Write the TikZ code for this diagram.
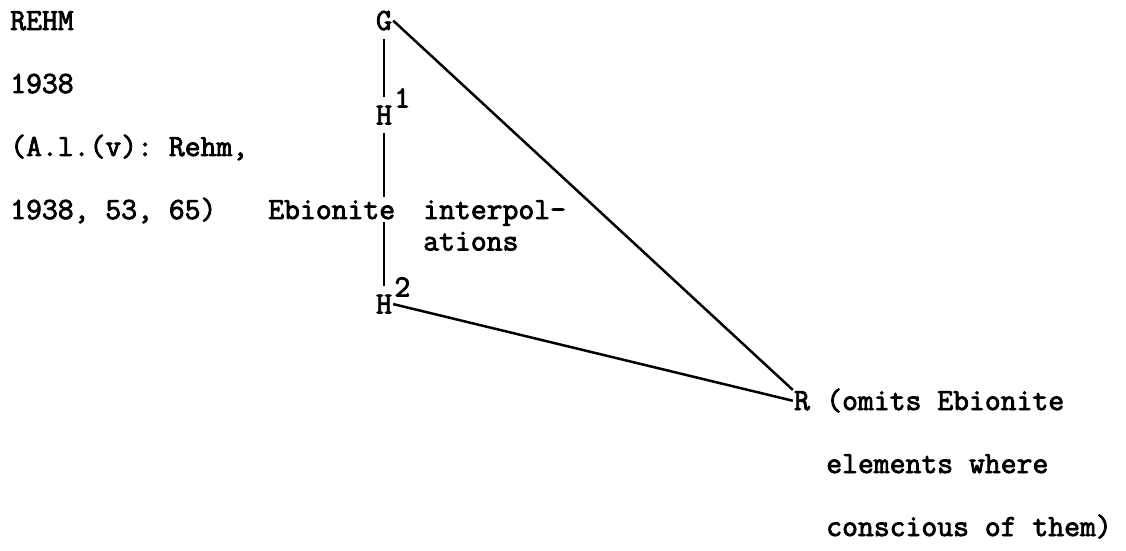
\documentclass[tikz,border=0pt]{standalone}
\usepackage{fontspec}
\setmonofont{Latin Modern Mono}[FakeBold=2.6]
\frenchspacing
\begin{document}
\begin{tikzpicture}[x=0.5pt, y=-0.5pt, line width=1.25pt,
    every node/.style={font=\fontsize{15.4}{18}\selectfont\ttfamily, inner sep=0pt},
    txt/.style={anchor=base west},
    ms/.style={anchor=base},
    gap/.style={shorten <=3.5pt, shorten >=3.5pt}]
    \useasboundingbox (0,0) rectangle (1126,551);
    % source
    \node[txt] (rehm) at (9,30) {REHM};
    \node[txt] (year) at (9,93) {1938};
    \node[txt] (ref1) at (9,156) {(A.l.(v): Rehm,};
    \node[txt] (ref2) at (9,219) {1938, 53, 65)};
    % manuscripts
    \node[ms] (G) at (384,30) {G};
    \node[ms] (H1) at (384,124.5) {H};
    \node[ms] (H2) at (384,313.5) {H};
    \node[ms] (R) at (802,410) {R};
    \node[txt] (H1sup) at ([yshift=8.5pt]H1.base east) {1};
    \node[txt] (H2sup) at ([yshift=8.5pt]H2.base east) {2};
    \draw[gap] (G.south) -- (H1.north);
    \draw[gap] (H1.south) -- (H2.north);
    \draw (G.east) -- (R.north west);
    \draw (H2.east) -- (R.west);
    \node[txt, fill=white, inner sep=1.5pt] (ebio) at (264,219) {Ebionite};
    \node[txt] (interp) at (422,219) {interpol-};
    \node[txt] (ations) at (422,250.5) {ations};
    \node[txt] (note1) at (825,410) {(omits Ebionite};
    \node[txt] (note2) at (825,473) {elements where};
    \node[txt] (note3) at (825,536) {conscious of them)};
\end{tikzpicture}
\end{document}
